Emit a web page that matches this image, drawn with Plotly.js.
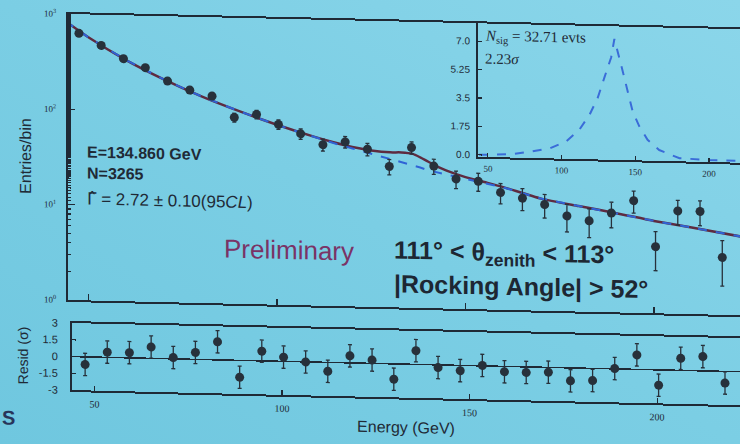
<!DOCTYPE html>
<html>
<head>
<meta charset="utf-8">
<script src="https://cdn.plot.ly/plotly-3.0.1.min.js"></script>
<style>
  html, body {
    margin: 0; padding: 0; width: 740px; height: 444px; overflow: hidden;
    background: linear-gradient(to top right, #6fc7df 0%, #7bcee4 50%, #8bd6ea 100%);
  }
  /* the slide is photographed slightly askew */
  #wrap { width: 740px; height: 444px; transform: skewY(1.3deg); transform-origin: 68px 0; }
  #chart { width: 740px; height: 444px; }
</style>
</head>
<body>
<div id="wrap"><div id="chart"></div></div>
<script>
// Photon energy bin centres (GeV)
const energy = [47.5, 53.4, 59.3, 65.1, 71.0, 76.9, 82.8, 88.7, 94.6, 100.4,
                106.3, 112.2, 118.1, 124.0, 129.8, 135.7, 141.6, 147.5, 153.4, 159.3,
                165.1, 171.0, 176.9, 182.8, 188.7, 194.6, 200.4, 206.3, 212.2, 218.1];
// Entries per bin and their statistical errors
const entries = [631, 476, 350, 285, 209, 170, 149, 90, 98, 78,
                 63, 49, 53, 45, 30, 48, 31, 23, 22, 17,
                 15, 13, 10, 9, 11, 15, 5, 12, 12, 4];
const entryErr = [25.1, 21.8, 18.7, 16.9, 14.5, 13.0, 12.2, 9.5, 9.9, 8.8,
                  7.9, 7.0, 7.3, 6.7, 5.5, 6.9, 5.6, 4.8, 4.7, 4.1,
                  3.9, 3.6, 3.2, 3.0, 3.3, 3.9, 2.2, 3.5, 3.5, 2.0];
// Residuals in units of sigma
const resid = [-0.68, 0.47, 0.47, 1.02, 0.12, 0.62, 1.62, -1.51, 0.87, 0.38,
               -0.01, -0.80, 0.63, 0.30, -1.37, 1.23, -0.24, -0.47, 0.04, -0.48,
               -0.50, -0.43, -1.16, -1.09, 0.03, 1.30, -1.37, 1.08, 1.28, -1.04];
const residErr = [1, 1, 1, 1, 1, 1, 1, 1, 1, 1,
                  1, 1, 1, 1, 1, 1, 1, 1, 1, 1,
                  1, 1, 1, 1, 1, 1, 1, 1, 1, 1];
// Fitted curves: signal + background (solid) and background only (dashed)
const fitEnergy = [44, 50, 60, 70, 80, 90, 100, 110, 115, 120, 125, 130, 133, 136, 138,
                   140, 143, 145, 150, 155, 160, 170, 180, 190, 200, 210, 223];
const fitTotal = [834, 576, 339, 217, 147, 105, 77.2, 58.8, 52.2, 47.0, 43.8, 42.2, 42.4, 41.2, 38.0,
                  34.6, 30.2, 28.0, 24.2, 21.7, 19.4, 15.0, 12.8, 11.0, 9.3, 8.1, 6.7];
const fitBackground = [834, 576, 339, 217, 147, 105, 77, 58.4, 51.2, 45.4, 40.4, 36.0, 33.8, 31.6, 29.8,
                       28.0, 26.5, 25.6, 23.5, 21.3, 19.3, 15.0, 12.8, 11.0, 9.3, 8.1, 6.7];
// Signal line shape shown in the inset
const sigEnergy = [44, 49, 67, 78, 92, 103, 112, 119, 124.5, 129, 133.6, 135.8,
                   138, 141.4, 144.8, 148.2, 152.7, 158.3, 166.2, 180, 200, 221];
const sigCounts = [0.0, 0.02, 0.1, 0.26, 0.5, 0.94, 1.68, 2.63, 3.68, 4.93, 6.18, 7.32,
                   6.6, 5.37, 4.13, 2.89, 1.98, 1.16, 0.55, 0.07, 0.01, 0.0];

const ink = '#1f2a36';
const dot = '#27313b';
const sans = 'Liberation Sans, Arial, sans-serif';
const serif = 'Liberation Serif, Times New Roman, serif';

// plot-area geometry in pixels, used to place the text blocks
const L = 68, T = 14, W = 672, H = 376;
const px = x => (x - L) / W;
const py = y => (T + H - y) / H;

const traces = [
  { x: fitEnergy, y: fitTotal, mode: 'lines', xaxis: 'x', yaxis: 'y',
    line: { color: '#5e2b40', width: 2.5, shape: 'spline', smoothing: 0.6 }, hoverinfo: 'skip' },
  { x: fitEnergy, y: fitBackground, mode: 'lines', xaxis: 'x', yaxis: 'y',
    line: { color: '#2f63d6', width: 2, dash: 'dash' }, hoverinfo: 'skip' },
  { x: energy, y: entries, mode: 'markers', xaxis: 'x', yaxis: 'y',
    marker: { size: 9, color: dot },
    error_y: { type: 'data', array: entryErr, color: dot, thickness: 1.3, width: 2 } },
  { x: energy, y: resid, mode: 'markers', xaxis: 'x2', yaxis: 'y2',
    marker: { size: 9, color: dot },
    error_y: { type: 'data', array: residErr, color: dot, thickness: 1.3, width: 2 } },
  { x: sigEnergy, y: sigCounts, mode: 'lines', xaxis: 'x3', yaxis: 'y3',
    line: { color: '#3a6cd8', width: 2, dash: 'dash' }, hoverinfo: 'skip' }
];

const frame = { showline: true, linecolor: ink, linewidth: 2, showgrid: false,
                zeroline: false, ticks: 'inside', tickcolor: ink, tickwidth: 1.2 };

const layout = {
  width: 740, height: 444,
  margin: { l: L, r: 0, t: T, b: 444 - T - H },
  paper_bgcolor: 'rgba(0,0,0,0)', plot_bgcolor: 'rgba(0,0,0,0)',
  showlegend: false,
  font: { family: sans, color: ink },
  xaxis: Object.assign({}, frame, {
    domain: [0, 1], anchor: 'y', range: [44.6, 222.8],
    tickvals: [50, 100, 150, 200], showticklabels: false, ticklen: 6, mirror: true
  }),
  yaxis: Object.assign({}, frame, {
    domain: [0.2394, 1], anchor: 'x', type: 'log', range: [0, 3],
    tickvals: [1, 10, 100, 1000],
    ticktext: ['10<sup>0</sup>', '10<sup>1</sup>', '10<sup>2</sup>', '10<sup>3</sup>'],
    ticklen: 7, tickfont: { family: serif, size: 9, color: ink },
    ticklabelstandoff: 8,
    minor: { ticks: 'inside', ticklen: 3, tickcolor: ink, showgrid: false },
    title: { text: 'Entries/bin', font: { family: sans, size: 16, color: ink }, standoff: 8 }
  }),
  xaxis2: Object.assign({}, frame, {
    domain: [4 / W, 1], anchor: 'y2', range: [44.0, 222.1],
    tickvals: [50, 100, 150, 200], ticklen: 5, mirror: true,
    tickfont: { family: serif, size: 10, color: ink }, ticklabelstandoff: 3,
    title: { text: 'Energy (GeV)', font: { family: sans, size: 16, color: ink }, standoff: 6 }
  }),
  yaxis2: Object.assign({}, frame, {
    domain: [0, 0.1782], anchor: 'x2', range: [-3, 3],
    tickvals: [-3, -1.5, 0, 1.5, 3], ticktext: ['-3', '-1.5', '0', '1.5', '3'],
    ticklen: 4, tickfont: { family: sans, size: 11, color: ink }, ticklabelstandoff: 10,
    zeroline: true, zerolinecolor: ink, zerolinewidth: 1.5,
    title: { text: 'Resid (σ)', font: { family: sans, size: 14, color: ink }, standoff: 7 }
  }),
  xaxis3: Object.assign({}, frame, {
    domain: [(478 - L) / W, 1], anchor: 'y3', range: [43.3, 221],
    tickvals: [50, 100, 150, 200], ticklen: 4, mirror: true,
    tickfont: { family: serif, size: 9, color: ink }, ticklabelstandoff: 2
  }),
  yaxis3: Object.assign({}, frame, {
    domain: [0.645, 1], anchor: 'x3', range: [-0.12, 8.1],
    tickvals: [0, 1.75, 3.5, 5.25, 7], ticktext: ['0.0', '1.75', '3.5', '5.25', '7.0'],
    ticklen: 4, tickfont: { family: sans, size: 10, color: ink }, ticklabelstandoff: 4
  }),
  annotations: [
    { text: 'E=134.860 GeV', x: px(85), y: py(151), xanchor: 'left', yanchor: 'middle',
      font: { family: sans, size: 16, color: ink, weight: 'bold' } },
    { text: 'N=3265', x: px(85), y: py(172), xanchor: 'left', yanchor: 'middle',
      font: { family: sans, size: 16, color: ink, weight: 'bold' } },
    { text: '<span style="font-family:DejaVu Sans">Γ̂</span> = 2.72 ± 0.10(95<i>CL</i>)',
      x: px(85), y: py(198), xanchor: 'left', yanchor: 'middle',
      font: { family: sans, size: 17, color: ink } },
    { text: 'Preliminary', x: px(289), y: py(245), xanchor: 'center', yanchor: 'middle',
      font: { family: sans, size: 26, color: '#7a3366' } },
    { text: '111° < θ<sub>zenith</sub> < 113°', x: px(392), y: py(244), xanchor: 'left', yanchor: 'middle',
      font: { family: sans, size: 25, color: '#1d2733', weight: 'bold' } },
    { text: '|Rocking Angle| > 52°', x: px(392), y: py(276), xanchor: 'left', yanchor: 'middle',
      font: { family: sans, size: 25, color: '#1d2733', weight: 'bold' } },
    { text: '<i>N</i><sub>sig</sub> = 32.71 evts', x: px(483), y: py(27), xanchor: 'left', yanchor: 'middle',
      font: { family: serif, size: 15, color: ink } },
    { text: '2.23<i>σ</i>', x: px(483), y: py(49), xanchor: 'left', yanchor: 'middle',
      font: { family: serif, size: 15, color: ink } },
    { text: 'S', x: px(0), y: py(419), xanchor: 'left', yanchor: 'middle',
      font: { family: sans, size: 20, color: '#28355a', weight: 'bold' } }
  ].map(a => Object.assign({ xref: 'paper', yref: 'paper', showarrow: false }, a))
};

Plotly.newPlot('chart', traces, layout, { displayModeBar: false, staticPlot: true });
</script>
</body>
</html>
